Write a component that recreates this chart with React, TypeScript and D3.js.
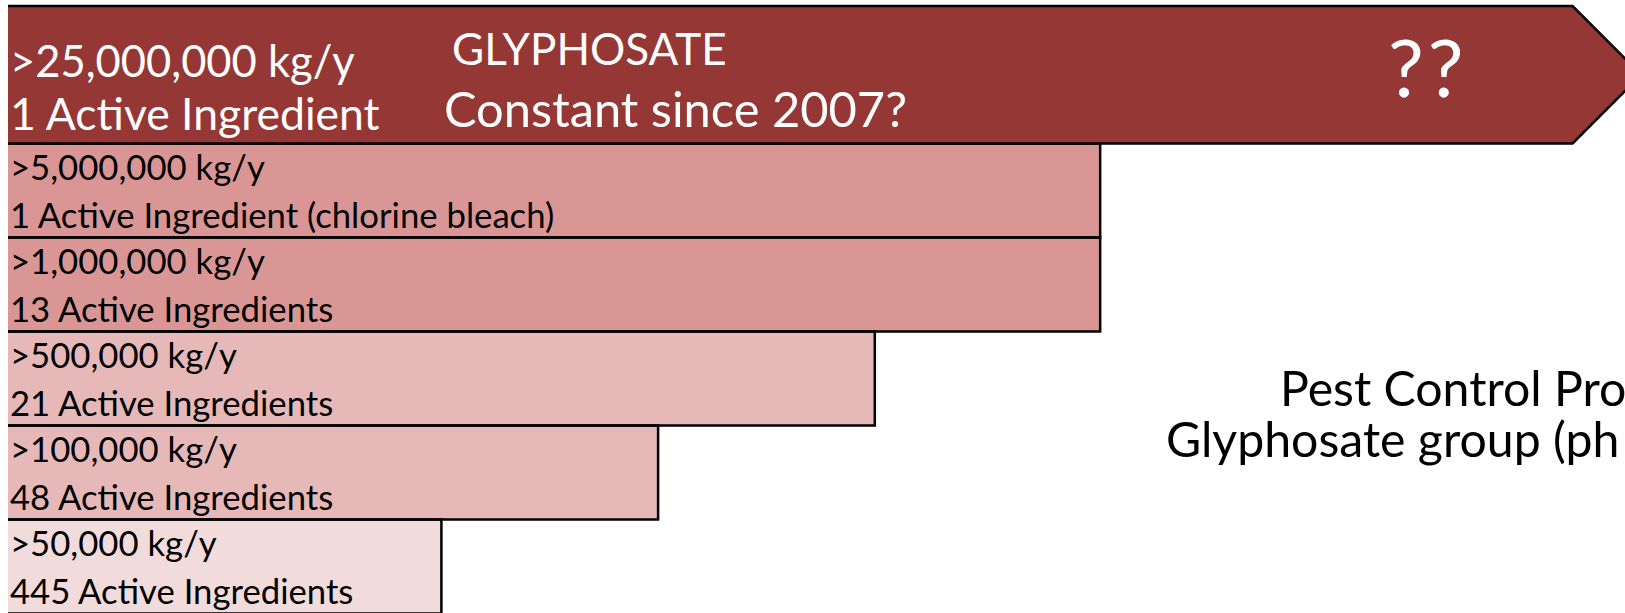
import React from "react";
import * as d3 from "d3";

// ---- data ----
const thresholds = [">25,000,000 kg/y", ">5,000,000 kg/y", ">1,000,000 kg/y", ">500,000 kg/y", ">100,000 kg/y", ">50,000 kg/y"];
const ingredientCounts = [
  "1 Active Ingredient",
  "1 Active Ingredient (chlorine bleach)",
  "13 Active Ingredients",
  "21 Active Ingredients",
  "48 Active Ingredients",
  "445 Active Ingredients",
];
// relative bar length (illustrative units)
const barLengths = [7.22, 5.04, 5.04, 4, 3, 2];
const colorTier = [0, 1, 1, 2, 2, 3];
const tierColors = ["#953735", "#D99694", "#E6B9B8", "#F2DCDB"];
const glyphosateNote = ["GLYPHOSATE", "Constant since 2007?"];
const arrowMark = "??";
// side note as visible in the reference (runs off the right edge there)
const sideNote = ["Pest Control Pro", "Glyphosate group (ph"];

const W = 1625;
const H = 613;
const FONT = "Lato, 'Open Sans', sans-serif";

export default function App() {
  const x = d3.scaleLinear().domain([0, 5]).range([8, 8 + 5 * 216.7]);
  const topY0 = 6;
  const topY1 = 143.5;
  const lowerIdx = d3.range(1, thresholds.length);
  const y = d3.scaleBand<number>().domain(lowerIdx).range([topY1, topY1 + 94 * lowerIdx.length]).padding(0);

  const x0 = x(0);
  const topRight = x(barLengths[0]);
  const half = (topY1 - topY0) / 2;
  const arrowPath = d3.path();
  arrowPath.moveTo(x0, topY0);
  arrowPath.lineTo(topRight, topY0);
  arrowPath.lineTo(topRight + half, topY0 + half);
  arrowPath.lineTo(topRight, topY1);
  arrowPath.lineTo(x0, topY1);

  return (
    <div style={{ position: "absolute", left: 0, top: 0 }}>
      <svg width={W} height={H} style={{ display: "block", background: "#fff" }}>
        {/* lower bars fill */}
        {lowerIdx.map((i) => (
          <rect
            key={"f" + i}
            x={x0}
            y={y(i)!}
            width={x(barLengths[i]) - x0}
            height={y.bandwidth()}
            fill={tierColors[colorTier[i]]}
          />
        ))}
        {/* lower bars outline (top, right, bottom) */}
        {lowerIdx.map((i) => {
          const r = x(barLengths[i]);
          const t = y(i)!;
          const b = t + y.bandwidth();
          return (
            <path
              key={"o" + i}
              d={`M${x0},${t}H${r}V${b}H${x0}`}
              fill="none"
              stroke="#000"
              strokeWidth={2.5}
            />
          );
        })}
        {/* top arrow bar */}
        <path d={arrowPath.toString()} fill={tierColors[colorTier[0]]} stroke="#000" strokeWidth={2.5} />

        {/* top bar texts */}
        <g fontFamily={FONT} fill="#fff">
          <text x={10} y={77} fontSize={43.5}>{thresholds[0]}</text>
          <text x={10} y={130} fontSize={44.5}>{ingredientCounts[0]}</text>
          <text x={452} y={65} fontSize={44}>{glyphosateNote[0]}</text>
          <text x={444} y={127} fontSize={48.8}>{glyphosateNote[1]}</text>
          <text x={1388} y={97} fontSize={80} letterSpacing={4}>{arrowMark}</text>
        </g>

        {/* lower bar texts */}
        <g fontFamily={FONT} fill="#000" fontSize={34.7}>
          {lowerIdx.map((i) => (
            <g key={"t" + i}>
              <text x={10} y={y(i)! + 36}>{thresholds[i]}</text>
              <text x={10} y={y(i)! + 84}>{ingredientCounts[i]}</text>
            </g>
          ))}
        </g>

        {/* side note */}
        <g fontFamily={FONT} fill="#000" fontSize={48.2}>
          <text x={1280} y={406}>{sideNote[0]}</text>
          <text x={1166} y={457}>{sideNote[1]}</text>
        </g>
      </svg>
    </div>
  );
}
